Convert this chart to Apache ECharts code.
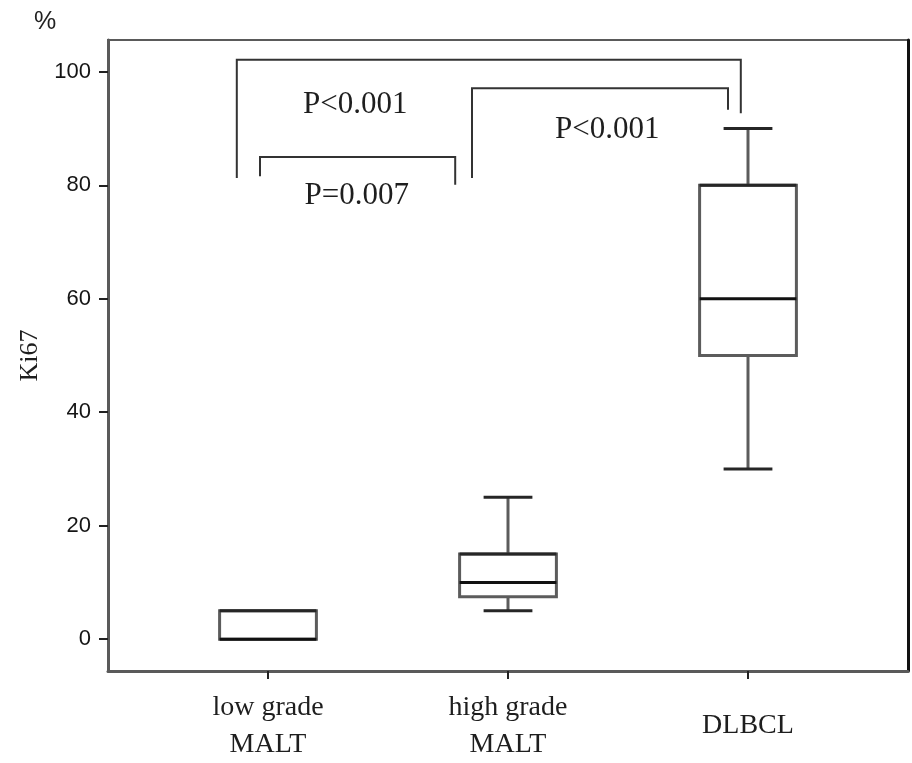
<!DOCTYPE html>
<html>
<head>
<meta charset="utf-8">
<title>Ki67 by lymphoma group</title>
<script src="https://cdn.jsdelivr.net/npm/echarts@6/dist/echarts.min.js"></script>
<style>
  html, body { margin: 0; padding: 0; background: #fff; }
  #chart { width: 912px; height: 763px; }
</style>
</head>
<body>
<div id="chart"></div>
<script>
// Groups and their positions along the x scale
const groupNames = ['low grade\nMALT', 'high grade\nMALT', 'DLBCL'];
const groupPos = [2, 5, 8];

// Box-plot statistics (Ki67 %)
const whiskerLow = [0, 5, 30];
const quartile1 = [0, 7.5, 50];
const median = [0, 10, 60];
const quartile3 = [5, 15, 80];
const whiskerHigh = [5, 25, 90];

// Y axis tick values
const yTicks = [0, 20, 40, 60, 80, 100];

// Significance brackets: [left x, right x, top y, left leg end y, right leg end y]
const bracketLeftX = [1.61, 1.9, 4.55];
const bracketRightX = [7.91, 4.34, 7.75];
const bracketTopY = [102.1, 85.0, 97.1];
const bracketLeftEndY = [81.3, 81.6, 81.3];
const bracketRightEndY = [92.7, 80.1, 93.3];

// P-value annotations: text and anchor (x, y)
const pTexts = ['P<0.001', 'P=0.007', 'P<0.001'];
const pX = [3.09, 3.11, 6.24];
const pY = [94.1, 78.1, 89.7];

const BOX_WIDTH = 1.21;   // in x-scale units
const CAP_WIDTH = 0.61;
const SERIF = '"Liberation Serif", "Times New Roman", serif';
const SANS = '"Liberation Sans", Arial, sans-serif';

const boxData = groupPos.map((x, i) => [x, whiskerLow[i], quartile1[i], median[i], quartile3[i], whiskerHigh[i]]);
const bracketData = bracketLeftX.map((xl, i) => [xl, bracketRightX[i], bracketTopY[i], bracketLeftEndY[i], bracketRightEndY[i]]);
const pData = pTexts.map((t, i) => [pX[i], pY[i], t]);

const labelByPos = {};
groupPos.forEach((p, i) => { labelByPos[p] = groupNames[i]; });

function renderBox(params, api) {
  const x = api.value(0);
  const lo = api.value(1), q1 = api.value(2), med = api.value(3), q3 = api.value(4), hi = api.value(5);
  const c = (v) => api.coord([x, v]);
  const half = api.size([BOX_WIDTH, 0])[0] / 2;
  const capHalf = api.size([CAP_WIDTH, 0])[0] / 2;
  const cx = c(0)[0];
  const yLo = c(lo)[1], yQ1 = c(q1)[1], yMed = c(med)[1], yQ3 = c(q3)[1], yHi = c(hi)[1];
  const grey = { stroke: '#5c5c5c', lineWidth: 3, fill: null };
  const dark = { stroke: '#262626', lineWidth: 3, fill: null };
  const children = [];
  if (yHi < yQ3) {
    children.push({ type: 'line', shape: { x1: cx, y1: yQ3, x2: cx, y2: yHi }, style: grey });
    children.push({ type: 'line', shape: { x1: cx - capHalf, y1: yHi, x2: cx + capHalf, y2: yHi }, style: dark });
  }
  if (yLo > yQ1) {
    children.push({ type: 'line', shape: { x1: cx, y1: yQ1, x2: cx, y2: yLo }, style: grey });
    children.push({ type: 'line', shape: { x1: cx - capHalf, y1: yLo, x2: cx + capHalf, y2: yLo }, style: dark });
  }
  children.push({
    type: 'rect',
    shape: { x: cx - half, y: yQ3, width: half * 2, height: yQ1 - yQ3 },
    style: { stroke: '#5c5c5c', lineWidth: 3, fill: '#fff' }
  });
  children.push({ type: 'line', shape: { x1: cx - half, y1: yQ3, x2: cx + half, y2: yQ3 }, style: dark });
  children.push({ type: 'line', shape: { x1: cx - half, y1: yMed, x2: cx + half, y2: yMed }, style: { stroke: '#111', lineWidth: 3 } });
  return { type: 'group', children };
}

function renderBracket(params, api) {
  const xl = api.value(0), xr = api.value(1), yt = api.value(2), yle = api.value(3), yre = api.value(4);
  const p1 = api.coord([xl, yle]);
  const p2 = api.coord([xl, yt]);
  const p3 = api.coord([xr, yt]);
  const p4 = api.coord([xr, yre]);
  return {
    type: 'polyline',
    shape: { points: [p1, p2, p3, p4] },
    style: { stroke: '#333', lineWidth: 2, fill: null }
  };
}

function renderPText(params, api) {
  const p = api.coord([api.value(0), api.value(1)]);
  return {
    type: 'text',
    x: p[0], y: p[1],
    style: {
      text: pTexts[params.dataIndex],
      font: '31px ' + SERIF,
      fill: '#1e1e1e',
      align: 'center',
      verticalAlign: 'middle'
    }
  };
}

const chart = echarts.init(document.getElementById('chart'), null, { renderer: 'canvas' });

chart.setOption({
  animation: false,
  backgroundColor: '#fff',
  graphic: [{
    type: 'text',
    left: 34, top: 10,
    style: { text: '%', font: '25px ' + SANS, fill: '#222' }
  }],
  grid: {
    left: 108, right: 4, top: 40, bottom: 91,
    show: true, borderColor: '#5a5a5a', borderWidth: 2, backgroundColor: '#fff'
  },
  xAxis: {
    type: 'value',
    min: 0, max: 10,
    splitLine: { show: false },
    axisLine: { show: true, onZero: false, lineStyle: { color: '#5a5a5a', width: 3 } },
    axisTick: { show: true, customValues: groupPos, length: 8, lineStyle: { color: '#222', width: 2 } },
    axisLabel: {
      customValues: groupPos,
      formatter: (v) => labelByPos[v] || '',
      margin: 55,
      verticalAlign: 'middle',
      fontFamily: SERIF,
      fontSize: 28,
      lineHeight: 37,
      color: '#1e1e1e'
    }
  },
  yAxis: [{
    type: 'value',
    min: -5.6, max: 105.6,
    name: 'Ki67',
    nameLocation: 'middle',
    nameGap: 64,
    nameTextStyle: { fontFamily: SERIF, fontSize: 26, color: '#1e1e1e' },
    splitLine: { show: false },
    axisLine: { show: true, onZero: false, lineStyle: { color: '#5a5a5a', width: 3 } },
    axisTick: { show: true, customValues: yTicks, length: 9, lineStyle: { color: '#222', width: 2 } },
    axisLabel: {
      customValues: yTicks,
      margin: 17,
      fontFamily: SANS,
      fontSize: 22,
      color: '#151515'
    }
  }, {
    type: 'value',
    position: 'right',
    min: -5.6, max: 105.6,
    splitLine: { show: false },
    axisLine: { show: true, onZero: false, lineStyle: { color: '#111', width: 3 } },
    axisTick: { show: false },
    axisLabel: { show: false }
  }],
  series: [{
    type: 'custom',
    name: 'Ki67',
    renderItem: renderBox,
    data: boxData,
    encode: { x: 0, y: [1, 2, 3, 4, 5] },
    z: 3
  }, {
    type: 'custom',
    name: 'brackets',
    renderItem: renderBracket,
    data: bracketData,
    encode: { x: [0, 1], y: [2, 3, 4] },
    z: 2
  }, {
    type: 'custom',
    name: 'p-values',
    renderItem: renderPText,
    data: pData,
    encode: { x: 0, y: 1 },
    z: 4
  }]
});
</script>
</body>
</html>
